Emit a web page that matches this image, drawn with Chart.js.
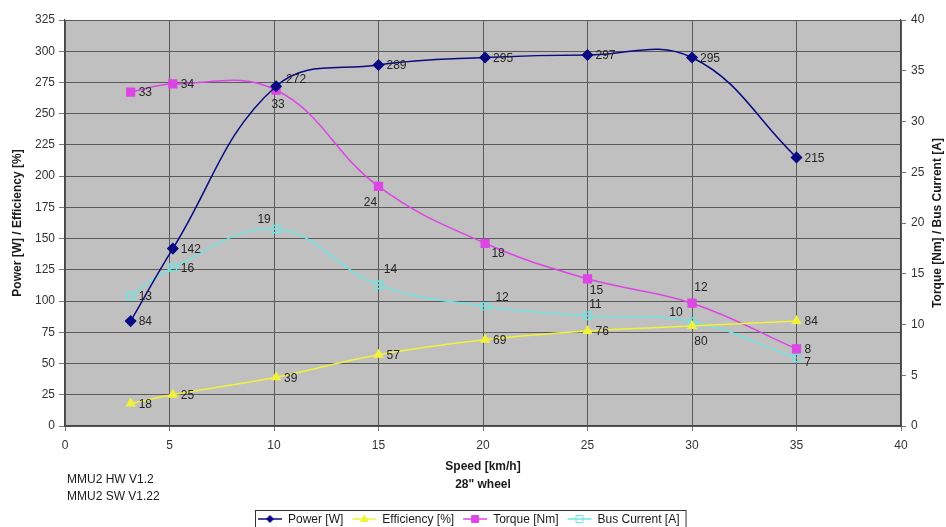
<!DOCTYPE html>
<html>
<head>
<meta charset="utf-8">
<title>MMU2 motor characteristics</title>
<script src="https://cdn.jsdelivr.net/npm/chart.js@4.4.1/dist/chart.umd.min.js"></script>
<style>
  html, body { margin: 0; padding: 0; background: #ffffff; }
  #wrap { width: 946px; height: 527px; position: relative; }
</style>
</head>
<body>
<div id="wrap"><canvas id="chart" width="946" height="527"></canvas></div>
<script>
// Measured operating points, 28" wheel
const speedKmh   = [3.14, 5.16, 10.1, 15.0, 20.1, 25.0, 30.0, 35.0];
const powerW     = [84, 142, 272, 289, 295, 297, 295, 215];
const efficiency = [18, 25, 39, 57, 69, 76, 80, 84];
const torqueNm   = [32.9, 33.7, 33.1, 23.6, 18.0, 14.5, 12.1, 7.6];
const busCurrent = [12.8, 15.6, 19.4, 13.9, 11.8, 10.85, 10.3, 6.7];

const leftTicksMax = 325;
const rightTicksMax = 40;
const speedMax = 40;

const seriesNames = ['Power [W]', 'Efficiency [%]', 'Torque [Nm]', 'Bus Current [A]'];
const versionLines = ['MMU2 HW V1.2', 'MMU2 SW V1.22'];
const xTitleLines = ['Speed [km/h]', '28" wheel'];
const leftTitle = 'Power [W] / Efficiency [%]';
const rightTitle = 'Torque [Nm] / Bus Current [A]';

// Label placement per point: 'r' = to the right, otherwise [dx, dy] of the text centre
const powerLabelPos  = ['r', 'r', [20, -7], 'r', 'r', 'r', 'r', 'r'];
const effLabelPos    = ['r', 'r', 'r', 'r', 'r', 'r', [9, 16], 'r'];
const torqueLabelPos = ['r', 'r', [2, 15], [-8, 16], [13, 10], [9, 12], [9, -15], 'r'];
const busLabelPos    = ['r', 'r', [-12, -9], [12, -15], [17, -9], [8, -11], [-16, -9], [11, 5]];

const FONT = '"Liberation Sans", Arial, sans-serif';

const toXY = (ys) => ys.map((y, i) => ({ x: speedKmh[i], y }));

const COLORS = {
  power: '#0a0a82',
  eff: '#f2f23a',
  torque: '#dc46e4',
  bus: '#70e4e4'
};

const datasets = [
  {
    label: seriesNames[0], data: toXY(powerW), yAxisID: 'y',
    borderColor: COLORS.power, backgroundColor: COLORS.power,
    pointStyle: 'rectRot', pointRadius: 5, borderWidth: 1.5,
    labelPos: powerLabelPos
  },
  {
    label: seriesNames[1], data: toXY(efficiency), yAxisID: 'y',
    borderColor: COLORS.eff, backgroundColor: COLORS.eff,
    pointStyle: 'triangle', pointRadius: 4.6, borderWidth: 1.5,
    labelPos: effLabelPos
  },
  {
    label: seriesNames[2], data: toXY(torqueNm), yAxisID: 'y2',
    borderColor: COLORS.torque, backgroundColor: COLORS.torque,
    pointStyle: 'rect', pointRadius: 5.5, borderWidth: 1.5,
    labelPos: torqueLabelPos
  },
  {
    label: seriesNames[3], data: toXY(busCurrent), yAxisID: 'y2',
    borderColor: COLORS.bus, backgroundColor: 'rgba(0,0,0,0)',
    pointStyle: 'rect', pointRadius: 5.2, borderWidth: 1.5,
    pointBorderWidth: 1.3,
    labelPos: busLabelPos
  }
];

const tickFont = { family: FONT, size: 12 };

const decorations = {
  id: 'decorations',
  beforeDraw(chart) {
    const { ctx, chartArea: a } = chart;
    ctx.save();
    ctx.fillStyle = '#c0c0c0';
    ctx.fillRect(a.left, a.top, a.right - a.left, a.bottom - a.top);
    ctx.restore();
  },
  afterDatasetsDraw(chart) {
    const { ctx } = chart;
    ctx.save();
    ctx.font = '12px ' + FONT;
    ctx.fillStyle = '#262626';
    ctx.textBaseline = 'middle';
    chart.data.datasets.forEach((ds, di) => {
      const meta = chart.getDatasetMeta(di);
      meta.data.forEach((pt, i) => {
        const text = Math.round(ds.data[i].y).toString();
        const pos = ds.labelPos[i];
        const w = ctx.measureText(text).width;
        let cx, cy;
        if (pos === 'r') { cx = pt.x + 8 + w / 2; cy = pt.y + 1; }
        else { cx = pt.x + pos[0]; cy = pt.y + pos[1]; }
        ctx.textAlign = 'center';
        ctx.fillText(text, cx, cy);
      });
    });
    ctx.restore();
  },
  afterDraw(chart) {
    const { ctx, chartArea: a } = chart;
    const midY = (a.top + a.bottom) / 2;
    const midX = (a.left + a.right) / 2;
    ctx.save();
    ctx.fillStyle = '#1a1a1a';
    ctx.font = 'bold 12px ' + FONT;
    ctx.textAlign = 'center';
    ctx.textBaseline = 'middle';
    // rotated axis titles, both reading upwards
    ctx.save();
    ctx.translate(18, midY);
    ctx.rotate(-Math.PI / 2);
    ctx.fillText(leftTitle, 0, 0);
    ctx.restore();
    ctx.save();
    ctx.translate(938, midY);
    ctx.rotate(-Math.PI / 2);
    ctx.fillText(rightTitle, 0, 0);
    ctx.restore();
    // x axis title
    ctx.fillText(xTitleLines[0], midX, 467);
    ctx.fillText(xTitleLines[1], midX, 485);
    // version text
    ctx.font = '12px ' + FONT;
    ctx.textAlign = 'left';
    ctx.fillText(versionLines[0], 67, 480);
    ctx.fillText(versionLines[1], 67, 497);

    // legend with line + marker samples
    const items = chart.data.datasets;
    let x = 258;
    const ly = 519;
    const starts = [];
    items.forEach((ds) => {
      starts.push(x);
      x += 24 + 6 + ctx.measureText(ds.label).width + 9;
    });
    const boxLeft = 255, boxRight = x - 3;
    ctx.strokeStyle = '#333';
    ctx.lineWidth = 1;
    ctx.strokeRect(boxLeft + 0.5, 510.5, boxRight - boxLeft, 30);
    items.forEach((ds, i) => {
      const sx = starts[i];
      const mx = sx + 12;
      ctx.strokeStyle = ds.borderColor;
      ctx.lineWidth = 1.5;
      ctx.beginPath();
      ctx.moveTo(sx, ly);
      ctx.lineTo(sx + 24, ly);
      ctx.stroke();
      ctx.fillStyle = ds.backgroundColor;
      ctx.beginPath();
      if (ds.pointStyle === 'rectRot') {
        const r = 3.5;
        ctx.moveTo(mx, ly - r); ctx.lineTo(mx + r, ly);
        ctx.lineTo(mx, ly + r); ctx.lineTo(mx - r, ly); ctx.closePath();
      } else if (ds.pointStyle === 'triangle') {
        const r = 4;
        ctx.moveTo(mx, ly - r); ctx.lineTo(mx + r, ly + r * 0.6);
        ctx.lineTo(mx - r, ly + r * 0.6); ctx.closePath();
      } else {
        ctx.rect(mx - 3.5, ly - 3.5, 7, 7);
      }
      ctx.fill();
      ctx.lineWidth = 1;
      ctx.stroke();
      ctx.fillStyle = '#1a1a1a';
      ctx.textAlign = 'left';
      ctx.fillText(ds.label, sx + 30, ly + 1);
    });
    ctx.restore();
  }
};

new Chart(document.getElementById('chart'), {
  type: 'line',
  data: { datasets },
  options: {
    responsive: false,
    animation: false,
    devicePixelRatio: 1,
    layout: { padding: { top: 20, left: 0, right: 0, bottom: 0 } },
    elements: { line: { tension: 0.4 } },
    plugins: {
      legend: { display: false },
      tooltip: { enabled: false }
    },
    scales: {
      x: {
        type: 'linear', min: 0, max: speedMax,
        ticks: { stepSize: 5, font: tickFont, color: '#333', padding: 7 },
        grid: { color: '#5a5a5a', lineWidth: 1, tickLength: 5, tickColor: '#777' },
        border: { color: '#444', width: 1.2 },
        afterFit(s) { s.height = 101; }
      },
      y: {
        position: 'left', min: 0, max: leftTicksMax,
        ticks: { stepSize: 25, font: tickFont, color: '#333', padding: 4 },
        grid: { color: '#5a5a5a', lineWidth: 1, tickLength: 6, tickColor: '#777' },
        border: { color: '#444', width: 1.2 },
        afterFit(s) { s.width = 65; }
      },
      y2: {
        position: 'right', min: 0, max: rightTicksMax,
        ticks: { stepSize: 5, font: tickFont, color: '#333', padding: 5 },
        grid: { drawOnChartArea: false, tickLength: 5, tickColor: '#777' },
        border: { color: '#444', width: 1.2 },
        afterFit(s) { s.width = 45; }
      }
    }
  },
  plugins: [decorations]
});
</script>
</body>
</html>
